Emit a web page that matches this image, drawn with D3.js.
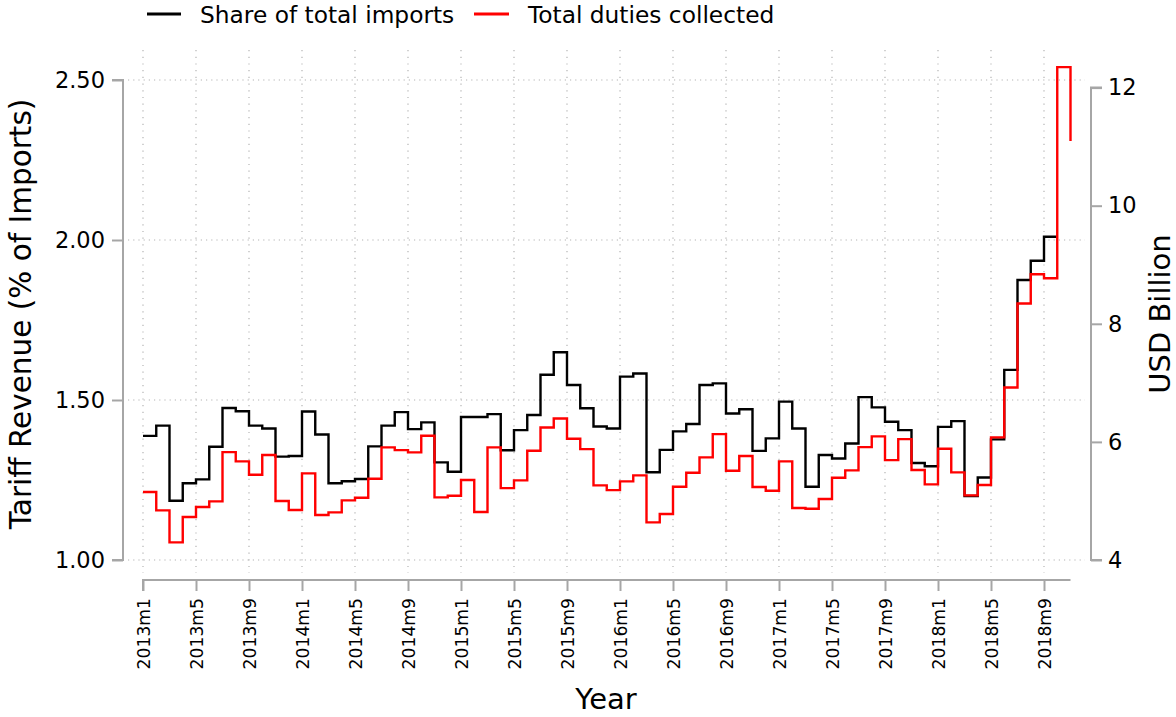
<!DOCTYPE html>
<html>
<head>
<meta charset="utf-8">
<script src="https://cdn.jsdelivr.net/npm/d3@7/dist/d3.min.js"></script>
<style>
  html, body { margin: 0; padding: 0; background: #fff; }
  svg { display: block; font-family: "DejaVu Sans", sans-serif; }
</style>
</head>
<body>
<svg id="chart" width="1176" height="717"></svg>
<script>
// Month index 0 = 2013m1
const shareMonths = d3.range(0, 70);
const shareOfImports = [
  1.388, 1.420, 1.185, 1.240, 1.252, 1.354, 1.475, 1.465, 1.420, 1.411, 1.323, 1.325,
  1.464, 1.392, 1.240, 1.246, 1.253, 1.355, 1.420, 1.462, 1.409, 1.430, 1.305, 1.276,
  1.447, 1.447, 1.456, 1.343, 1.406, 1.453, 1.579, 1.649, 1.547, 1.474, 1.417, 1.411,
  1.573, 1.583, 1.274, 1.344, 1.402, 1.425, 1.547, 1.552, 1.458, 1.471, 1.341, 1.380,
  1.495, 1.411, 1.229, 1.328, 1.317, 1.364, 1.509, 1.477, 1.432, 1.406, 1.303, 1.293,
  1.416, 1.434, 1.200, 1.258, 1.377, 1.594, 1.875, 1.935, 2.010, 2.010
];
const dutyMonths = d3.range(0, 71);
const dutiesCollected = [
  5.151, 4.841, 4.299, 4.728, 4.897, 4.993, 5.827, 5.670, 5.444, 5.777, 4.998, 4.846,
  5.467, 4.761, 4.807, 5.010, 5.054, 5.376, 5.907, 5.861, 5.822, 6.103, 5.061, 5.088,
  5.354, 4.812, 5.907, 5.218, 5.348, 5.850, 6.245, 6.397, 6.053, 5.878, 5.264, 5.184,
  5.332, 5.433, 4.638, 4.778, 5.241, 5.478, 5.738, 6.132, 5.511, 5.760, 5.235, 5.173,
  5.670, 4.880, 4.868, 5.032, 5.393, 5.518, 5.912, 6.093, 5.692, 6.047, 5.523, 5.281,
  5.884, 5.484, 5.095, 5.269, 6.076, 6.922, 8.343, 8.839, 8.772, 12.347, 11.095
];
const xTickMonths = [0, 4, 8, 12, 16, 20, 24, 28, 32, 36, 40, 44, 48, 52, 56, 60, 64, 68];
const xTickLabels = ["2013m1","2013m5","2013m9","2014m1","2014m5","2014m9","2015m1","2015m5","2015m9",
                     "2016m1","2016m5","2016m9","2017m1","2017m5","2017m9","2018m1","2018m5","2018m9"];
const leftTicks = [1.00, 1.50, 2.00, 2.50];
const rightTicks = [4, 6, 8, 10, 12];
const seriesNames = ["Share of total imports", "Total duties collected"];
const seriesColors = ["#000000", "#ff0000"];

const svg = d3.select("#chart");
const axisColor = "#a6a6a6";
const gridColor = "#b4b4b4";

const x = d3.scaleLinear().domain([0, 68]).range([143, 1044]);
const yL = d3.scaleLinear().domain([1, 2.5]).range([560, 80]);
const yR = d3.scaleLinear().domain([4, 12]).range([560, 87.6]);

// grid
const grid = svg.append("g");
grid.selectAll("line.h").data(leftTicks).join("line")
  .attr("x1", 128).attr("x2", 1085)
  .attr("y1", d => yL(d)).attr("y2", d => yL(d))
  .attr("stroke", gridColor).attr("stroke-width", 1.2).attr("stroke-dasharray", "1.2,4");
grid.selectAll("line.v").data(xTickMonths).join("line")
  .attr("x1", d => x(d)).attr("x2", d => x(d))
  .attr("y1", 50).attr("y2", 573)
  .attr("stroke", gridColor).attr("stroke-width", 1.2).attr("stroke-dasharray", "1.2,5.5");

// left axis
const leftAxis = svg.append("g").attr("transform", "translate(123,0)")
  .call(d3.axisLeft(yL).tickValues(leftTicks).tickFormat(d3.format(".2f")).tickSize(11).tickPadding(7));
// right axis
const rightAxis = svg.append("g").attr("transform", "translate(1091,0)")
  .call(d3.axisRight(yR).tickValues(rightTicks).tickFormat(d3.format("d")).tickSize(11).tickPadding(6));
// bottom axis
const bottomAxis = svg.append("g").attr("transform", "translate(0,580)")
  .call(d3.axisBottom(x).tickValues(xTickMonths).tickFormat((d, i) => xTickLabels[i]).tickSize(11).tickPadding(7));

[leftAxis, rightAxis, bottomAxis].forEach(g => {
  g.select(".domain").attr("stroke", axisColor).attr("stroke-width", 2);
  g.selectAll(".tick line").attr("stroke", axisColor).attr("stroke-width", 2);
  g.selectAll("text").attr("fill", "#000").style("font-family", "DejaVu Sans");
});
leftAxis.select(".domain").attr("d", `M-11,${yL(2.5)}H0V${yL(1)}H-11`);
rightAxis.select(".domain").attr("d", `M11,${yR(12)}H0V${yR(4)}H11`);
bottomAxis.select(".domain").attr("d", `M${x(0)},11V0H${x(70)}`);
leftAxis.selectAll("text").style("font-size", "22.5px");
rightAxis.selectAll("text").style("font-size", "22.5px");
bottomAxis.selectAll("text")
  .style("font-size", "17.2px")
  .attr("text-anchor", "end")
  .attr("transform", "translate(0,18) rotate(-90)")
  .attr("x", 0).attr("y", 0).attr("dy", "0.35em");

// lines
const lineShare = d3.line().curve(d3.curveStepAfter)
  .x((d, i) => x(shareMonths[i])).y(d => yL(d));
const lineDuty = d3.line().curve(d3.curveStepAfter)
  .x((d, i) => x(dutyMonths[i])).y(d => yR(d));

svg.append("path").datum(shareOfImports).attr("d", lineShare)
  .attr("fill", "none").attr("stroke", seriesColors[0]).attr("stroke-width", 2.4);
svg.append("path").datum(dutiesCollected).attr("d", lineDuty)
  .attr("fill", "none").attr("stroke", seriesColors[1]).attr("stroke-width", 2.4);

// titles
svg.append("text").attr("x", 606).attr("y", 709).attr("text-anchor", "middle")
  .style("font-size", "29px").text("Year");
svg.append("text").attr("transform", "translate(31,314) rotate(-90)").attr("text-anchor", "middle")
  .style("font-size", "29.5px").text("Tariff Revenue (% of Imports)");
svg.append("text").attr("transform", "translate(1170,314) rotate(-90)").attr("text-anchor", "middle")
  .style("font-size", "29px").text("USD Billion");

// legend
const legendItems = [
  { x1: 147, x2: 181, tx: 200 },
  { x1: 474, x2: 509, tx: 528 }
];
const lg = svg.append("g");
lg.selectAll("line").data(seriesNames).join("line")
  .attr("x1", (d, i) => legendItems[i].x1).attr("x2", (d, i) => legendItems[i].x2)
  .attr("y1", 14).attr("y2", 14)
  .attr("stroke", (d, i) => seriesColors[i]).attr("stroke-width", 2.8);
lg.selectAll("text").data(seriesNames).join("text")
  .attr("x", (d, i) => legendItems[i].tx).attr("y", 23)
  .style("font-size", "23.3px").text(d => d);
</script>
</body>
</html>
